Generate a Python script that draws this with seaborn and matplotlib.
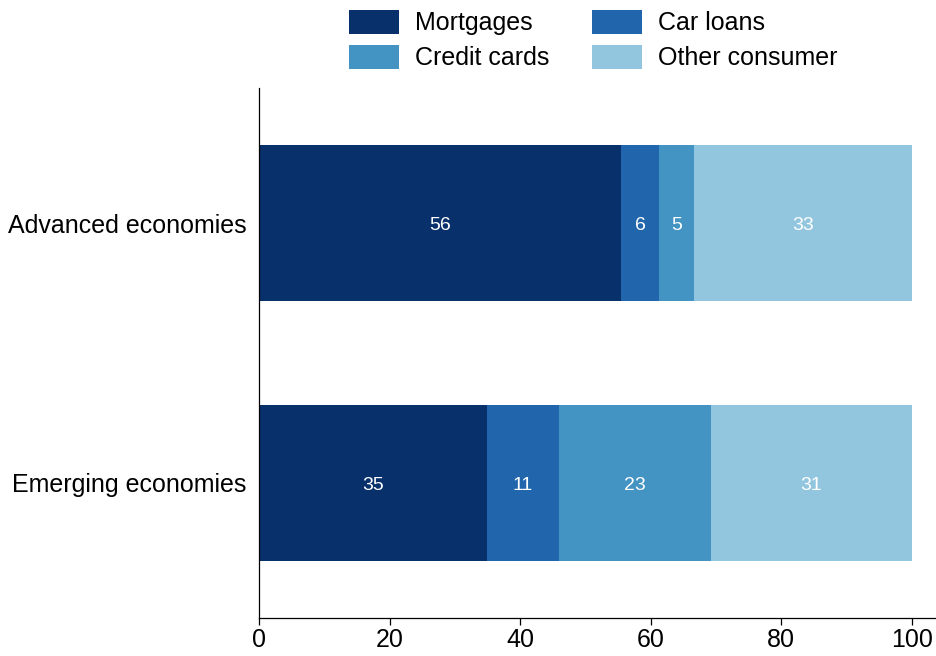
import matplotlib
matplotlib.use("Agg")
import matplotlib.pyplot as plt
import numpy as np
import pandas as pd
import seaborn as sns
from matplotlib.patches import Patch

# --- data (shares of household debt, %) ---
REGIONS = ["Advanced economies", "Emerging economies"]
SEGMENTS = ["Mortgages", "Car loans", "Credit cards", "Other consumer"]
MORTGAGES = [55.5, 34.9]
CAR_LOANS = [5.8, 11.0]
CREDIT_CARDS = [5.3, 23.3]
OTHER = [33.4, 30.8]
COLORS = ["#08306b", "#2166ac", "#4393c3", "#92c5de"]

sns.set_theme(style="white")
plt.rcParams["font.family"] = ["Liberation Sans", "DejaVu Sans"]
plt.rcParams["text.color"] = "black"
plt.rcParams["xtick.color"] = "black"
plt.rcParams["ytick.color"] = "black"


def main():
    df = pd.DataFrame({"region": REGIONS, "Mortgages": MORTGAGES, "Car loans": CAR_LOANS,
                       "Credit cards": CREDIT_CARDS, "Other consumer": OTHER})
    cum = df[SEGMENTS].cumsum(axis=1)
    left = cum - df[SEGMENTS]

    fig = plt.figure(figsize=(9.36, 6.56), dpi=100)
    ax = fig.add_axes([259 / 936, 38 / 656, 677 / 936, 530 / 656])

    # stacked bars: draw cumulative totals from the widest down
    for seg, color in reversed(list(zip(SEGMENTS, COLORS))):
        sns.barplot(x=cum[seg], y=df["region"], orient="h", color=color,
                    width=0.6, saturation=1, linewidth=0, ax=ax)

    for i in range(len(REGIONS)):
        for seg in SEGMENTS:
            v = df.loc[i, seg]
            ax.text(left.loc[i, seg] + v / 2, i + 0.01, f"{v:.0f}", color="white",
                    ha="center", va="center", fontsize=14)

    ax.set_xlim(0, 103.7)
    ax.set_ylim(1.52, -0.52)
    ax.set_xticks([0, 20, 40, 60, 80, 100])
    ax.set_xlabel(""); ax.set_ylabel("")
    sns.despine(ax=ax)
    for s in ["left", "bottom"]:
        ax.spines[s].set_linewidth(0.9)
        ax.spines[s].set_color("black")
    ax.tick_params(axis="x", length=5, width=0.9, color="black", labelsize=18, pad=2, bottom=True)
    ax.tick_params(axis="y", length=0, labelsize=18, pad=9)

    # row-major legend order: Mortgages, Car loans / Credit cards, Other consumer
    order = [0, 2, 1, 3]
    handles = [Patch(facecolor=COLORS[k], label=SEGMENTS[k], linewidth=0) for k in order]
    ax.legend(handles=handles, loc="lower center", bbox_to_anchor=(0.494, 1.019), ncol=2,
              frameon=False, fontsize=18, handlelength=2.0, handleheight=1.12,
              handletextpad=0.65, columnspacing=1.7, labelspacing=0.38, borderaxespad=0.0,
              borderpad=0.3)

    fig.savefig("out.png", dpi=100)
    plt.close(fig)


if __name__ == "__main__":
    main()
